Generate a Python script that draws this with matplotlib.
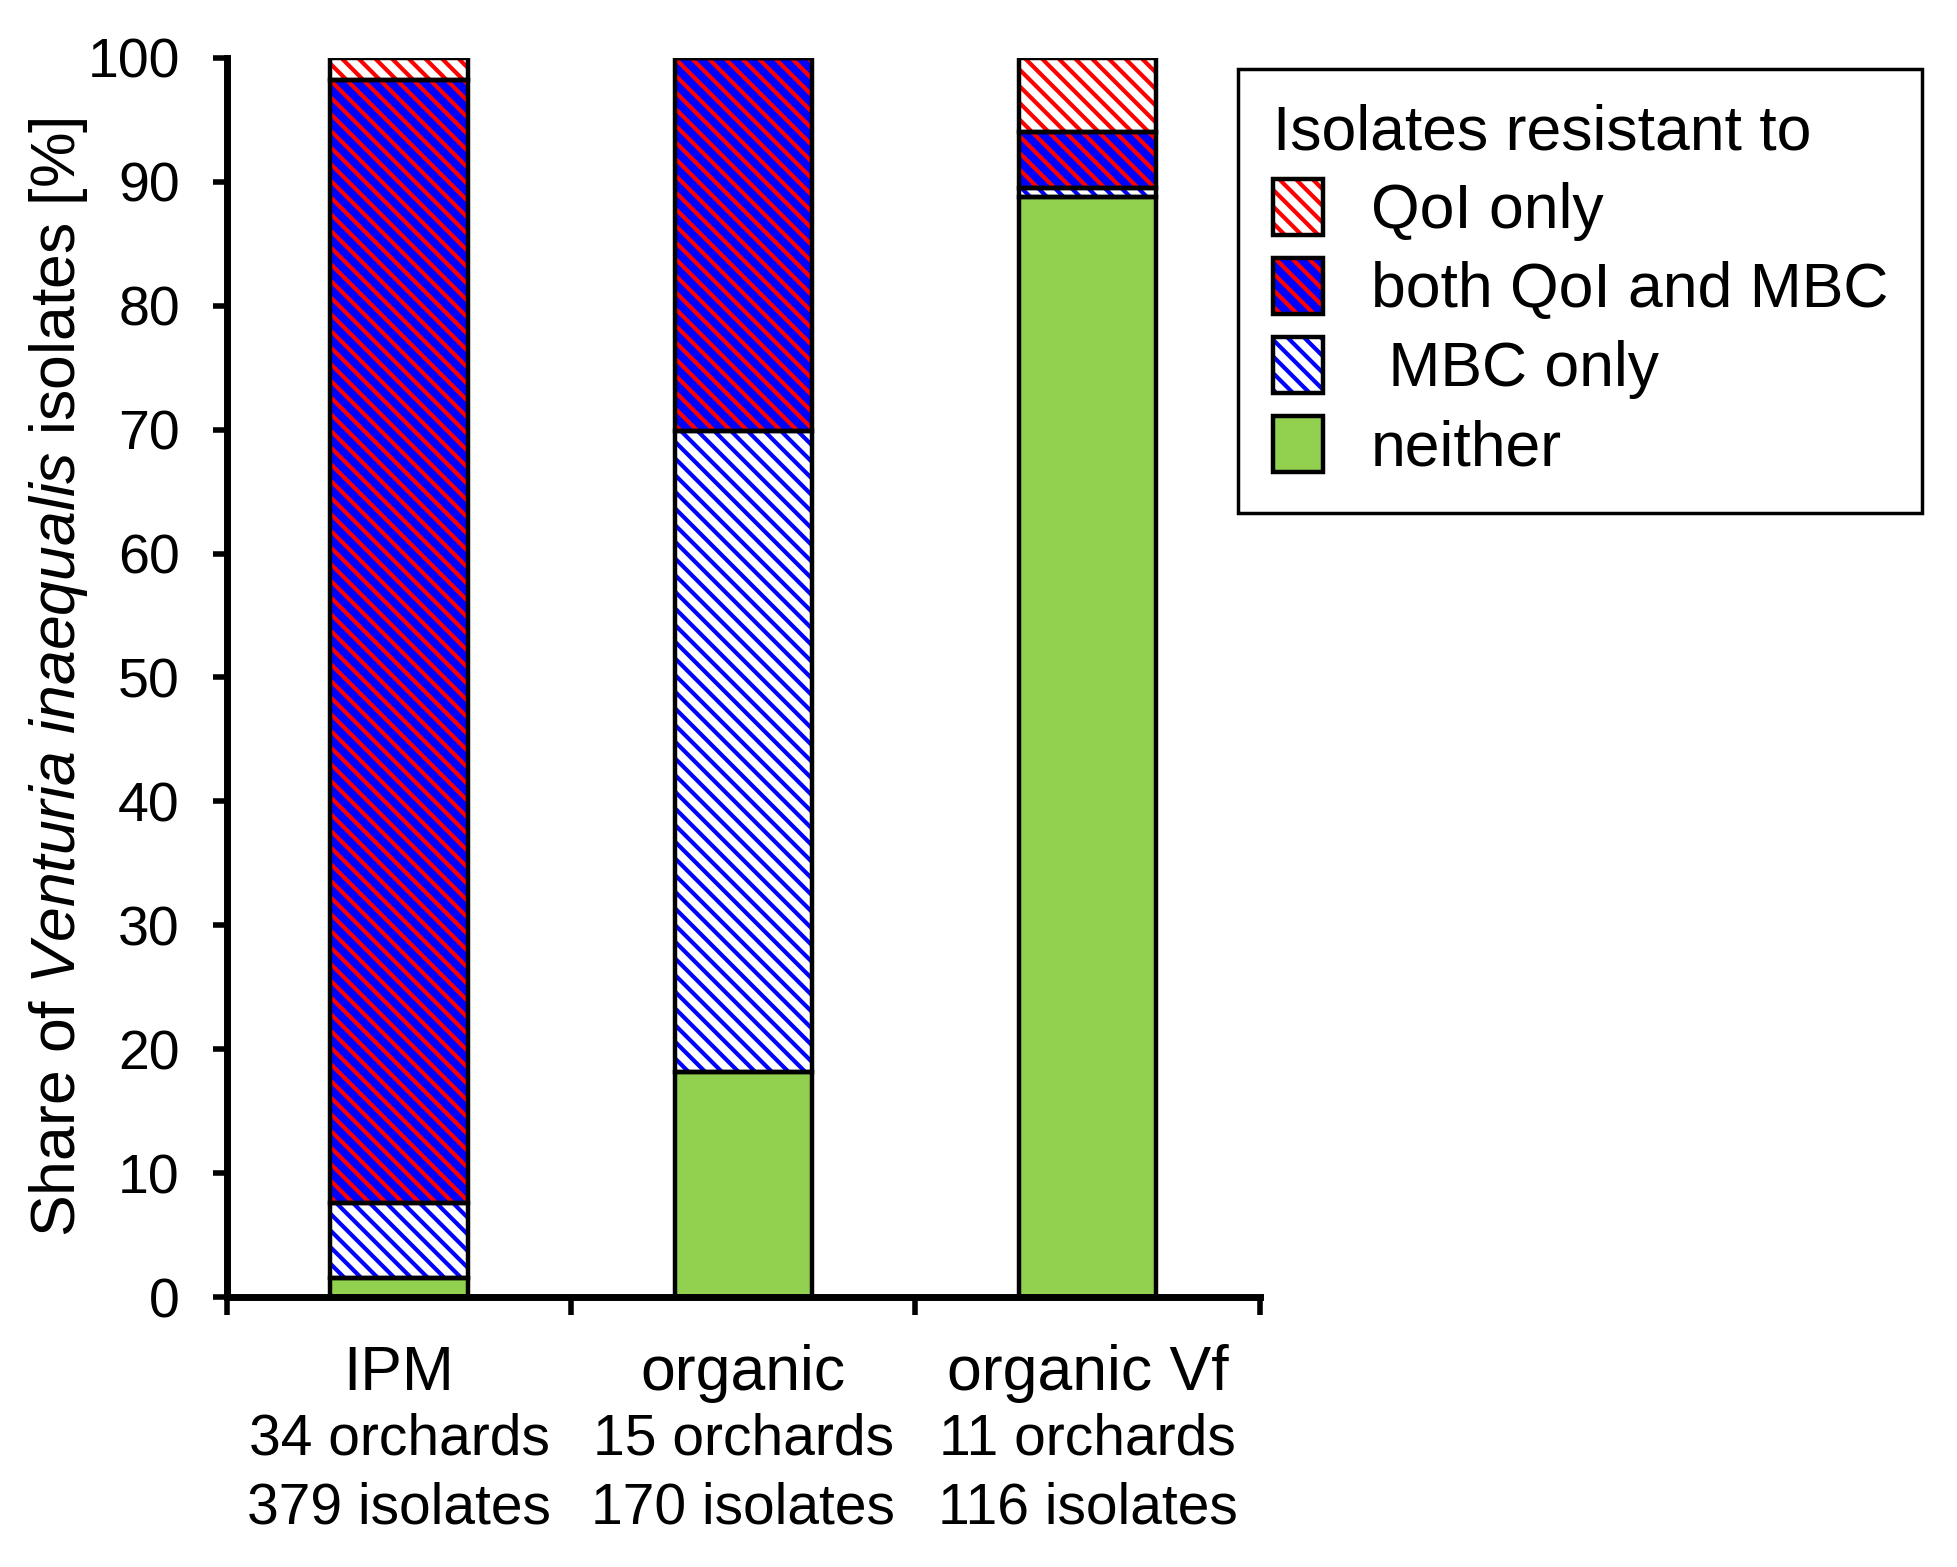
import matplotlib
matplotlib.use("Agg")
import matplotlib.pyplot as plt
from matplotlib.patches import Patch

plt.rcParams['font.family'] = ['Liberation Sans', 'DejaVu Sans']
plt.rcParams['mathtext.fontset'] = 'custom'
plt.rcParams['mathtext.rm'] = 'Liberation Sans'
plt.rcParams['mathtext.it'] = 'Liberation Sans:italic'
plt.rcParams['hatch.linewidth'] = 3.0

# dati (percentuali)
gruppi = ['IPM', 'organic', 'organic Vf']
frutteti = ['34 orchards', '15 orchards', '11 orchards']
isolati = ['379 isolates', '170 isolates', '116 isolates']

neither = [1.5, 18.2, 88.8]
mbc_only = [6.1, 51.7, 0.7]
both = [90.6, 30.1, 4.5]
qoi_only = [1.8, 0.0, 6.0]

serie = ['neither', ' MBC only', 'both QoI and MBC', 'QoI only']
valori = [neither, mbc_only, both, qoi_only]
# (colore di fondo, colore del tratteggio, tratteggio)
stili = [('#92D050', '#92D050', None),
         ('white', '#0000FF', '\\\\'),
         ('#0000FF', '#FF0000', '\\\\'),
         ('white', '#FF0000', '\\\\')]

fig = plt.figure(figsize=(19.57, 15.67), dpi=100)
ax = fig.add_axes([0.116, 0.1723, 0.5277, 0.7907])

x = [0.5, 1.5, 2.5]
larghezza = 0.4
base = [0.0, 0.0, 0.0]
maniglie = []
for vals, (fc, hc, h), nome in zip(valori, stili, serie):
    ax.bar(x, vals, larghezza, bottom=base, facecolor=fc, edgecolor=hc,
           hatch=h, linewidth=0, zorder=2)
    ax.bar(x, vals, larghezza, bottom=base, fill=False, edgecolor='black',
           linewidth=3.2, zorder=3)
    base = [b + v for b, v in zip(base, vals)]
    p1 = Patch(facecolor=fc, edgecolor=hc, hatch=h, linewidth=0)
    p2 = Patch(fill=False, edgecolor='black', linewidth=3.2)
    maniglie.append(((p1, p2), nome))

ax.set_xlim(0, 3)
ax.set_ylim(0, 100)
ax.set_yticks(range(0, 101, 10))
ax.set_xticks([0, 1, 2, 3])
ax.set_xticklabels([])
for lato in ['top', 'right']:
    ax.spines[lato].set_visible(False)
for lato in ['left', 'bottom']:
    ax.spines[lato].set_linewidth(5)
ax.tick_params(axis='y', direction='out', length=10, width=4, pad=24,
               labelsize=40)
ax.tick_params(axis='x', direction='out', length=13, width=4)

ax.set_ylabel('Share of $\\it{Venturia\\ inaequalis}$ isolates [%]',
              fontsize=45)
ax.yaxis.set_label_coords(-0.133, 0.5)

trans = ax.get_xaxis_transform()
for xi, g, f, i in zip(x, gruppi, frutteti, isolati):
    ax.text(xi, -0.075, g, transform=trans, ha='center', va='baseline',
            fontsize=45)
    ax.text(xi, -0.1275, f, transform=trans, ha='center', va='baseline',
            fontsize=41)
    ax.text(xi, -0.1824, i, transform=trans, ha='center', va='baseline',
            fontsize=41)

# legenda in ordine inverso (dall'alto)
maniglie = maniglie[::-1]
leg = fig.legend([m[0] for m in maniglie], [m[1] for m in maniglie],
                 loc='upper left', bbox_to_anchor=(0.6327, 0.956),
                 borderaxespad=0, fontsize=45, title='Isolates resistant to',
                 title_fontsize=45, alignment='left', fancybox=False,
                 edgecolor='black', framealpha=1, handlelength=0.8,
                 handleheight=1.02, handletextpad=0.77, labelspacing=0.26,
                 borderpad=0.55)
leg.get_frame().set_linewidth(2.5)

fig.savefig('out.png', dpi=100)
